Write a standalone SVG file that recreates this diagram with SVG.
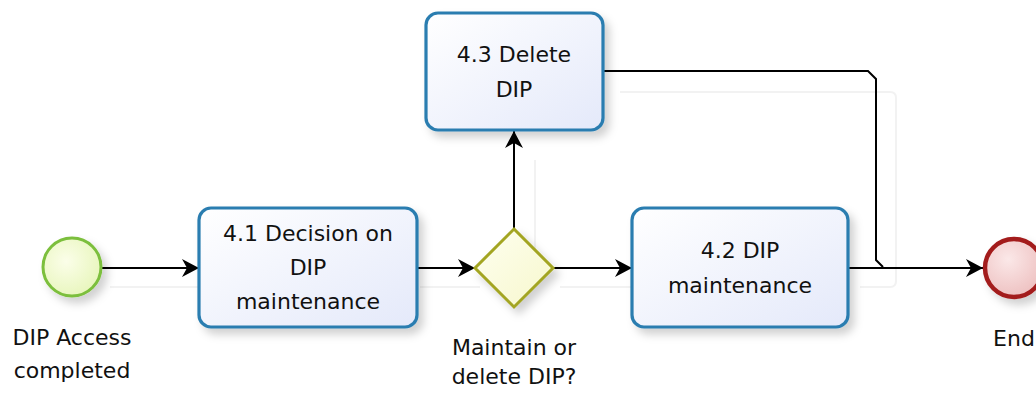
<svg xmlns="http://www.w3.org/2000/svg" width="1036" height="394" viewBox="0 0 1036 394">
<style>
  .lbl { font-family: "DejaVu Sans", "Liberation Sans", sans-serif; font-size: 22px; fill: #111; text-anchor: middle; }
  .task { fill: url(#taskFill); stroke: #2a7db0; stroke-width: 3.2; filter: url(#shadow); }
  .conn { fill: none; stroke: #000; stroke-width: 2; }
  .ghost { fill: none; stroke: #f2f2f2; stroke-width: 2; }
</style>
<defs>
  <linearGradient id="taskFill" x1="0" y1="0" x2="1" y2="1">
    <stop offset="0" stop-color="#ffffff"/>
    <stop offset="1" stop-color="#e4e9fa"/>
  </linearGradient>
  <radialGradient id="startFill" cx="0.4" cy="0.4" r="0.7">
    <stop offset="0" stop-color="#fbfee9"/>
    <stop offset="1" stop-color="#e6f5b8"/>
  </radialGradient>
  <radialGradient id="endFill" cx="0.4" cy="0.35" r="0.75">
    <stop offset="0" stop-color="#fbe8e8"/>
    <stop offset="1" stop-color="#ecbcbc"/>
  </radialGradient>
  <linearGradient id="gwFill" x1="0" y1="0" x2="1" y2="1">
    <stop offset="0" stop-color="#fefff0"/>
    <stop offset="1" stop-color="#f7f7cc"/>
  </linearGradient>
  <filter id="shadow" x="-20%" y="-20%" width="150%" height="150%">
    <feDropShadow dx="5" dy="6" stdDeviation="4" flood-color="#000" flood-opacity="0.18"/>
  </filter>
  <marker id="arrow" markerUnits="userSpaceOnUse" markerWidth="20" markerHeight="20" refX="17" refY="9" orient="auto">
    <path d="M0,0 L17,9 L0,18 L5,9 z" fill="#000"/>
  </marker>
</defs>

<g id="ghosts">
  <path class="ghost" d="M620,92 L890,92 Q896,92 896,98 L896,281 Q896,287 890,287 L860,287"/>
  <path class="ghost" d="M535,160 L535,287"/>
  <path class="ghost" d="M110,287 L200,287"/>
  <path class="ghost" d="M420,287 L480,287"/>
  <path class="ghost" d="M560,287 L640,287"/>
</g>

<g id="connectors">
  <path class="conn" d="M101,268 L199,268" marker-end="url(#arrow)"/>
  <path class="conn" d="M417,268 L475,268" marker-end="url(#arrow)"/>
  <path class="conn" d="M553,268 L632,268" marker-end="url(#arrow)"/>
  <path class="conn" d="M514,229 L514,131" marker-end="url(#arrow)"/>
  <path class="conn" d="M848,268 L983,268" marker-end="url(#arrow)"/>
  <path class="conn" d="M603,71 L868,71 L876,79 L876,260 L883,267"/>
</g>

<g id="start">
  <circle cx="72" cy="267" r="29" fill="url(#startFill)" stroke="#7cbf3c" stroke-width="3" filter="url(#shadow)"/>
  <text class="lbl" x="72" y="345">DIP Access</text>
  <text class="lbl" x="72" y="378">completed</text>
</g>

<g id="task41">
  <rect class="task" x="199" y="208" width="218" height="119" rx="12"/>
  <text class="lbl" x="308" y="241">4.1 Decision on</text>
  <text class="lbl" x="308" y="275">DIP</text>
  <text class="lbl" x="308" y="309">maintenance</text>
</g>

<g id="gateway">
  <polygon points="514,229 553,268 514,307 475,268" fill="url(#gwFill)" stroke="#a3a520" stroke-width="3" filter="url(#shadow)"/>
  <text class="lbl" x="514" y="355">Maintain or</text>
  <text class="lbl" x="514" y="384">delete DIP?</text>
</g>

<g id="task43">
  <rect class="task" x="426" y="13" width="177" height="117" rx="12"/>
  <text class="lbl" x="514" y="62">4.3 Delete</text>
  <text class="lbl" x="514" y="97">DIP</text>
</g>

<g id="task42">
  <rect class="task" x="632" y="208" width="216" height="119" rx="12"/>
  <text class="lbl" x="740" y="258">4.2 DIP</text>
  <text class="lbl" x="740" y="293">maintenance</text>
</g>

<g id="end">
  <circle cx="1014" cy="268" r="29" fill="url(#endFill)" stroke="#a31b1b" stroke-width="4.5" filter="url(#shadow)"/>
  <text class="lbl" x="1014" y="346">End</text>
</g>
</svg>
